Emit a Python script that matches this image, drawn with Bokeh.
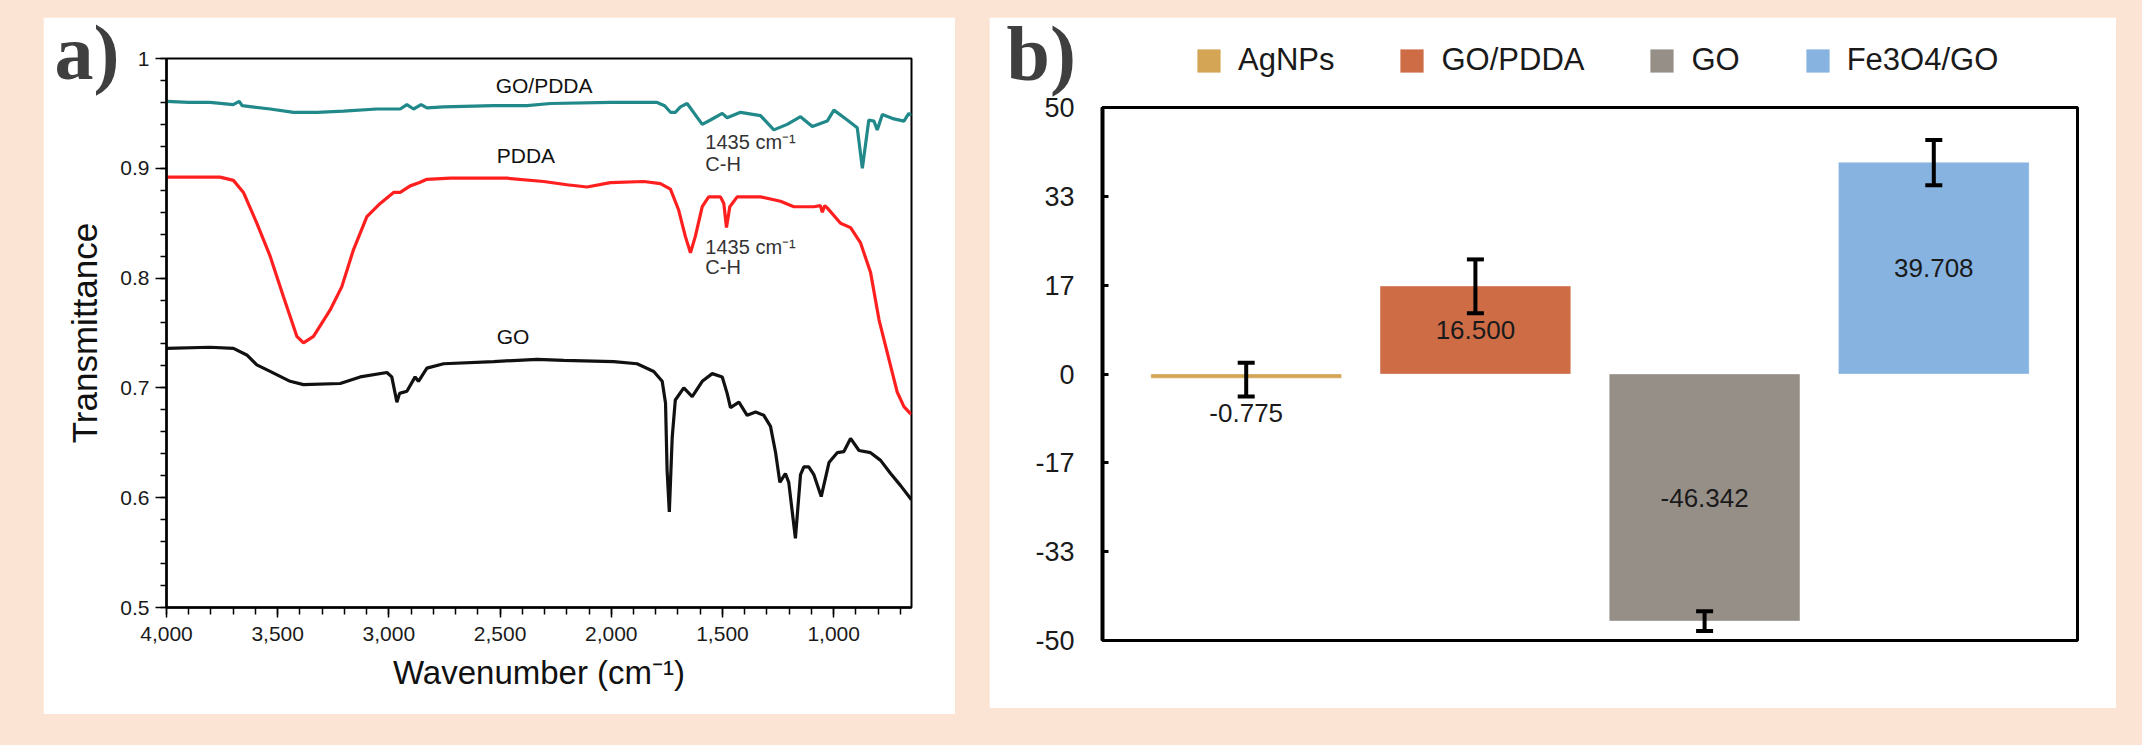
from bokeh.plotting import figure
from bokeh.models import (Range1d, FactorRange, SingleIntervalTicker, FixedTicker,
                          NumeralTickFormatter, Legend, LegendItem, Whisker,
                          TeeHead, ColumnDataSource)
from bokeh.core.properties import value
from bokeh.embed import file_html
from bokeh.resources import INLINE

BG = "#FCE4D4"
FONT = "Liberation Sans"
SERIF = "Liberation Serif"
NAN = float("nan")

# ---------------- panel a data: FTIR spectra (wavenumber, transmittance) -------------
go_pdda_wn = [4000, 3900, 3804, 3700, 3673, 3660, 3534, 3429, 3324, 3204, 3054, 2949,
              2919, 2889, 2855, 2829, 2754, 2529, 2379, 2274, 2004, 1794, 1760, 1734,
              1712, 1689, 1659, 1591, 1554, 1501, 1479, 1419, 1329, 1269, 1209, 1149,
              1096, 1029, 999, 939, 894, 871, 842, 819, 804, 781, 729, 684, 662, 650]
go_pdda_t = [0.961, 0.960, 0.960, 0.958, 0.961, 0.957, 0.954, 0.951, 0.951, 0.952, 0.954, 0.954,
             0.958, 0.954, 0.958, 0.955, 0.956, 0.957, 0.957, 0.959, 0.960, 0.960, 0.957, 0.951,
             0.951, 0.956, 0.959, 0.940, 0.944, 0.950, 0.946, 0.951, 0.948, 0.935, 0.940, 0.947,
             0.938, 0.943, 0.953, 0.944, 0.937, 0.900, 0.944, 0.943, 0.935, 0.949, 0.945, 0.943,
             0.950, 0.948]

pdda_wn = [4000, 3759, 3699, 3654, 3594, 3534, 3474, 3414, 3384, 3339, 3264, 3212, 3159,
           3099, 3039, 2979, 2949, 2904, 2862, 2829, 2724, 2469, 2304, 2199, 2109, 2004,
           1854, 1779, 1734, 1697, 1667, 1644, 1622, 1591, 1562, 1509, 1494, 1482, 1467,
           1434, 1329, 1239, 1179, 1089, 1060, 1051, 1040, 1029, 969, 924, 879, 834, 796,
           744, 714, 684, 657, 650]
pdda_t = [0.892, 0.892, 0.889, 0.878, 0.850, 0.820, 0.783, 0.747, 0.741, 0.747, 0.771, 0.792,
          0.826, 0.856, 0.868, 0.878, 0.878, 0.884, 0.887, 0.890, 0.891, 0.891, 0.888, 0.885,
          0.883, 0.887, 0.888, 0.886, 0.881, 0.862, 0.838, 0.823, 0.838, 0.865, 0.874, 0.874,
          0.868, 0.846, 0.865, 0.874, 0.874, 0.870, 0.865, 0.865, 0.866, 0.860, 0.866, 0.864,
          0.850, 0.846, 0.832, 0.805, 0.762, 0.720, 0.696, 0.683, 0.677, 0.676]

go_wn = [4000, 3804, 3699, 3639, 3594, 3534, 3444, 3384, 3219, 3129, 3009, 2987, 2964,
         2952, 2919, 2882, 2867, 2829, 2754, 2529, 2334, 2214, 1989, 1884, 1809, 1771,
         1756, 1749, 1739, 1726, 1712, 1674, 1636, 1591, 1546, 1501, 1479, 1464, 1426,
         1389, 1351, 1314, 1284, 1261, 1242, 1217, 1202, 1172, 1149, 1134, 1112, 1089,
         1056, 1021, 984, 954, 924, 886, 834, 789, 744, 699, 657, 650]
go_t = [0.736, 0.737, 0.736, 0.730, 0.721, 0.715, 0.706, 0.703, 0.704, 0.710, 0.714, 0.710,
        0.687, 0.695, 0.697, 0.710, 0.706, 0.718, 0.722, 0.724, 0.726, 0.725, 0.724, 0.722,
        0.715, 0.706, 0.686, 0.625, 0.587, 0.655, 0.689, 0.700, 0.692, 0.706, 0.713, 0.710,
        0.695, 0.682, 0.687, 0.675, 0.678, 0.675, 0.665, 0.641, 0.614, 0.622, 0.614, 0.563,
        0.621, 0.628, 0.628, 0.621, 0.601, 0.632, 0.641, 0.642, 0.654, 0.643, 0.641, 0.634,
        0.622, 0.611, 0.600, 0.598]

# ---------------- panel b data: bars with error bars --------------------------------
cats = ["AgNPs", "GO/PDDA", "GO", "Fe3O4/GO"]
vals = [-0.775, 16.500, -46.342, 39.708]
err_lo = [-4.2, 11.4, -48.2, 35.4]
err_hi = [2.1, 21.5, -44.5, 43.9]
bar_colors = ["#D4A554", "#CE6C46", "#968F88", "#87B3E0"]
y_ticks_b = [-50, -100 / 3, -50 / 3, 0, 50 / 3, 100 / 3, 50]


def place(p, left, top, z=1):
    p.styles = {"position": "absolute", "left": "%dpx" % left, "top": "%dpx" % top,
                "z-index": str(z)}


# ================= panel a =================
pa = figure(width=912, height=697, x_range=Range1d(4000, 650), y_range=Range1d(0.5, 1.0),
            output_backend="svg", toolbar_location=None,
            min_border_left=123, min_border_right=44, min_border_top=41, min_border_bottom=107)
place(pa, 43, 17)
pa.grid.visible = False
pa.background_fill_color = "white"
pa.border_fill_color = "white"
pa.outline_line_color = "black"
pa.outline_line_width = 2

pa.line(go_pdda_wn, go_pdda_t, color="#21898A", line_width=3.2)
pa.line(pdda_wn, pdda_t, color="#FF1F1F", line_width=3.2)
pa.line(go_wn, go_t, color="#111111", line_width=3.2)

xa = pa.xaxis[0]
xa.ticker = SingleIntervalTicker(interval=500, num_minor_ticks=5)
xa.formatter = NumeralTickFormatter(format="0,0")
ya = pa.yaxis[0]
ya.ticker = SingleIntervalTicker(interval=0.1, num_minor_ticks=5)
ya.formatter = NumeralTickFormatter(format="0.[0]")
for ax in (xa, ya):
    ax.axis_line_width = 2.5
    ax.axis_line_color = "black"
    ax.major_tick_in = 0
    ax.minor_tick_in = 0
    ax.major_tick_line_width = 1.5
    ax.minor_tick_line_width = 1.5
    ax.major_label_text_font = FONT
    ax.major_label_text_font_size = "21px"
    ax.major_label_text_color = "#1a1a1a"
    ax.axis_label_text_font = FONT
    ax.axis_label_text_font_style = "normal"
    ax.axis_label_text_color = "#111111"
xa.major_tick_out = 10
xa.minor_tick_out = 7
xa.major_label_standoff = 9
xa.axis_label = "Wavenumber (cm⁻¹)"
xa.axis_label_text_font_size = "33px"
xa.axis_label_standoff = 10
ya.major_tick_out = 11
ya.minor_tick_out = 6
ya.major_label_standoff = 6
ya.axis_label = "Transmittance"
ya.axis_label_text_font_size = "35px"
ya.axis_label_standoff = 13

txt = dict(text_font=value(FONT), text_font_size="21px", text_align="left",
           text_baseline="middle", text_color="#111111")
pa.text(x=[2520], y=[0.975], text=["GO/PDDA"], **txt)
pa.text(x=[2515], y=[0.912], text=["PDDA"], **txt)
pa.text(x=[2515], y=[0.747], text=["GO"], **txt)
ann = dict(text_font=value(FONT), text_font_size="20px", text_align="left",
           text_baseline="top", text_color="#333333")
pa.text(x=[1577, 1577], y=[0.934, 0.838], text=["1435 cm⁻¹", "1435 cm⁻¹"], **ann)
pa.text(x=[1577, 1577], y=[0.914, 0.820], text=["C-H", "C-H"], **ann)

# ================= panel b =================
pb = figure(width=1127, height=691, x_range=FactorRange(factors=cats, range_padding=0.0635),
            y_range=Range1d(-50, 50), output_backend="svg", toolbar_location=None,
            min_border_left=113, min_border_right=39, min_border_top=90, min_border_bottom=68)
place(pb, 989, 17)
pb.grid.visible = False
pb.background_fill_color = "white"
pb.border_fill_color = "white"
pb.outline_line_color = "black"
pb.outline_line_width = 3

label_y = [v / 2 if abs(v) > 5 else lo - 3.2 for v, lo in zip(vals, err_lo)]
src = ColumnDataSource(dict(cat=cats, val=vals, color=bar_colors, lo=err_lo, hi=err_hi,
                            ly=label_y, lab=["%.3f" % v for v in vals]))
bars = pb.vbar(x="cat", top="val", bottom=0, width=0.832, fill_color="color",
               line_color="white", line_alpha=0.35, line_width=1, source=src)
wh = Whisker(source=src, base="cat", lower="lo", upper="hi", line_width=4, line_color="black",
             level="overlay",
             upper_head=TeeHead(size=17, line_width=4, line_color="black"),
             lower_head=TeeHead(size=17, line_width=4, line_color="black"))
pb.add_layout(wh)
pb.text(x="cat", y="ly", text="lab", source=src, text_align="center", text_baseline="middle",
        text_font=value(FONT), text_font_size="26px", text_color="#1a1a1a")

pb.xaxis.visible = False
yb = pb.yaxis[0]
yb.ticker = FixedTicker(ticks=y_ticks_b)
yb.formatter = NumeralTickFormatter(format="0")
yb.axis_line_width = 4
yb.major_tick_in = 6
yb.major_tick_out = 0
yb.major_tick_line_width = 3
yb.major_label_standoff = 28
yb.major_label_text_font = FONT
yb.major_label_text_font_size = "27px"
yb.major_label_text_color = "#1a1a1a"

# ================= transparent overlay: panel letters and legend =================
ov = figure(width=2073, height=110, x_range=Range1d(43, 2116), y_range=Range1d(110, 0),
            output_backend="svg", toolbar_location=None, x_axis_location=None,
            y_axis_location=None, min_border=0, title_location=None)
place(ov, 43, 0, z=5)
ov.grid.visible = False
ov.outline_line_color = None
ov.background_fill_alpha = 0
ov.border_fill_alpha = 0
ov.text(x=[54, 1006], y=[52, 53], text=["a)", "b)"], text_font=value(SERIF),
        text_font_size="78px", text_font_style="bold", text_color="#3F3F3F",
        text_baseline="middle", text_align="left")
# legend swatches: one style-only renderer per category (no visible marks of their own)
swatches = [ov.vbar(x=[NAN], top=[NAN], width=1, fill_color=c, line_color=None)
            for c in bar_colors]
legend = Legend(items=[LegendItem(label=c, renderers=[r]) for c, r in zip(cats, swatches)],
                orientation="horizontal", location=(1151, 32), glyph_width=29, glyph_height=29,
                label_standoff=15, spacing=63, padding=0, margin=0,
                border_line_color=None, background_fill_alpha=0,
                label_text_font=FONT, label_text_font_size="31px", label_text_color="#1a1a1a")
ov.add_layout(legend)

html = file_html([pa, pb, ov], INLINE, title="FTIR and zeta potential")
style = ("<style>html, body { background-color: %s !important; } "
         "body { margin: 8px; }</style>\n" % BG)
idx = html.rfind("<body")
html = html[:idx] + style + html[idx:]
open("out.html", "w").write(html)
